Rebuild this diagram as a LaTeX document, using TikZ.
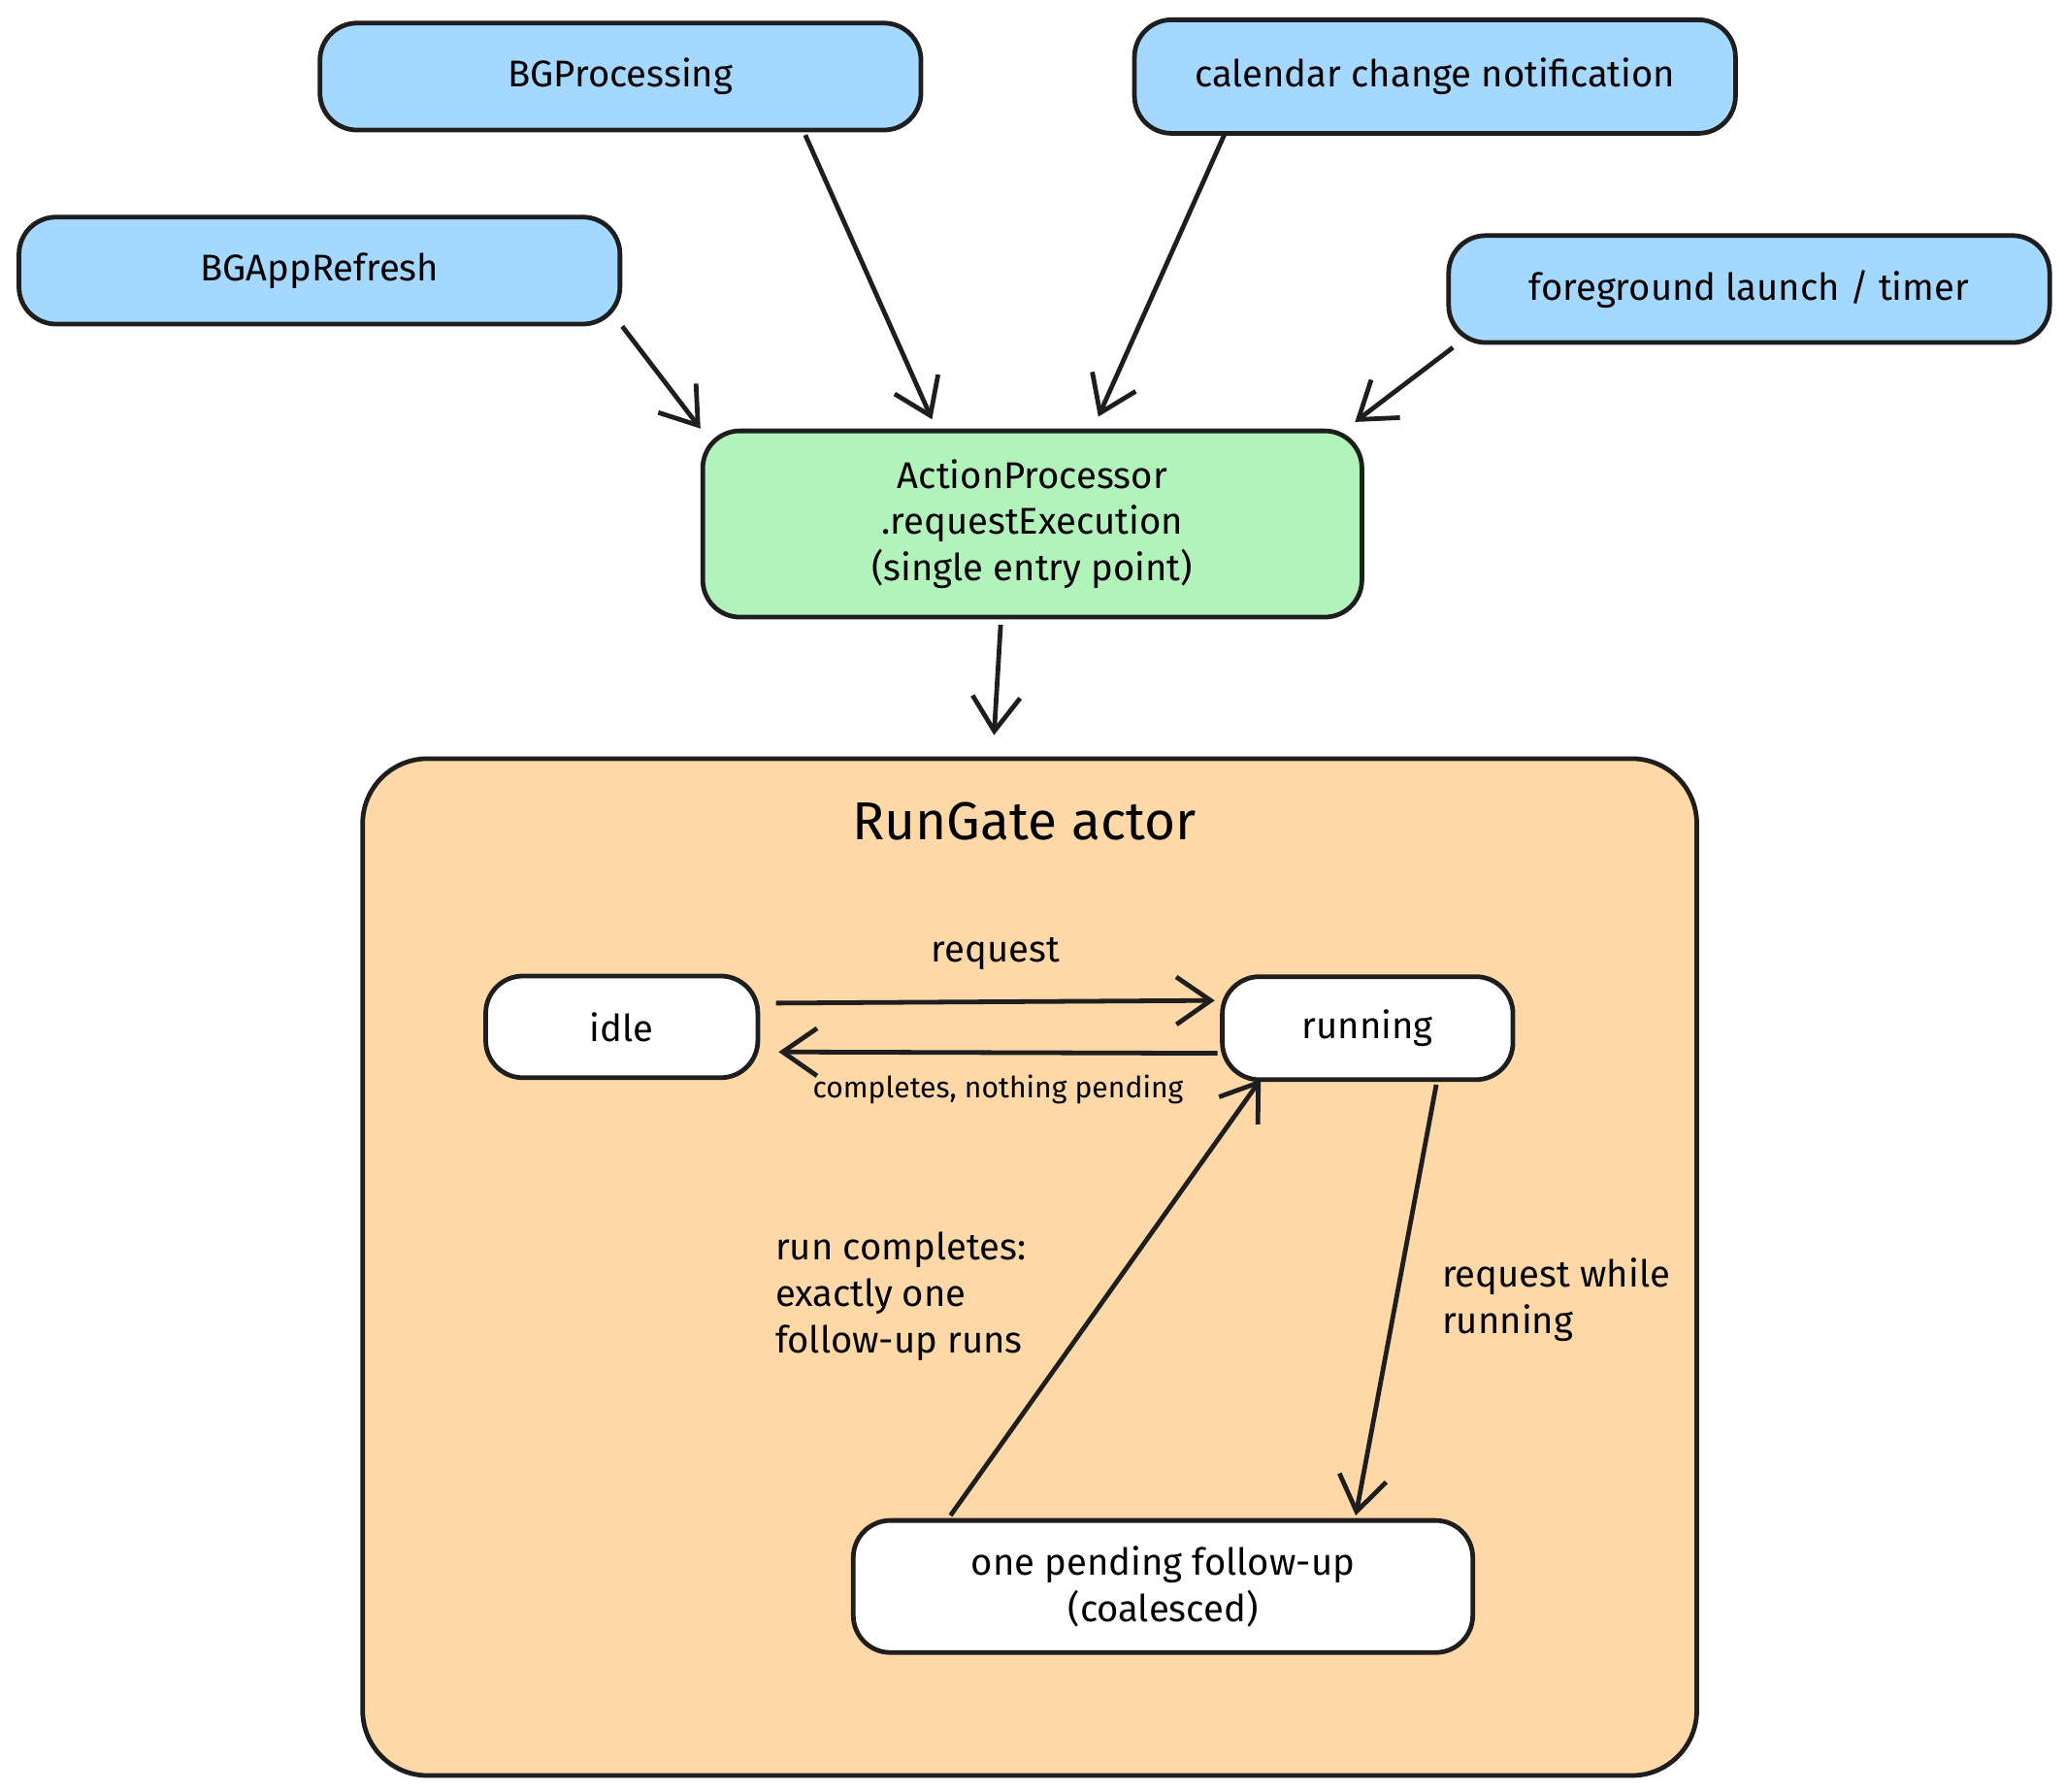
\documentclass[tikz,border=0pt]{standalone}
\usepackage{fontspec}
\setmainfont{Fira Sans}
\usetikzlibrary{arrows.meta, positioning, calc}
\definecolor{srcblue}{HTML}{A5D8FF}
\definecolor{entrygreen}{HTML}{B2F2BB}
\definecolor{gateorange}{HTML}{FFD8A8}
\definecolor{inkdark}{HTML}{1E1E1E}
\tikzset{
  box/.style={draw=inkdark, line width=1pt, rounded corners=8pt, align=center, font=\fontsize{8}{10}\selectfont},
  source/.style={box, fill=srcblue, minimum width=4.55cm, minimum height=0.81cm},
  state/.style={box, fill=white},
  flow/.style={draw=inkdark, line width=1pt, -{Straight Barb[length=2.6mm, width=3.6mm]}},
}
\begin{document}
\begin{tikzpicture}[x=0.01cm, y=-0.01cm]
  \useasboundingbox (0,0) rectangle (1565,1357);

  % Sources
  \node[source] (bgproc) at (470,58) {BGProcessing};
  \node[source, minimum height=0.86cm] (calendar) at (1087,58) {calendar change notification};
  \node[source] (bgapp) at (242,205) {BGAppRefresh};
  \node[source] (fground) at (1325,219) {foreground launch / timer};

  % Entry point
  \node[box, fill=entrygreen, minimum width=4.99cm, minimum height=1.41cm] (action) at (782,397)
    {ActionProcessor\\.requestExecution\\(single entry point)};

  % RunGate container
  \node[box, fill=gateorange, rounded corners=14pt, minimum width=10.1cm, minimum height=7.7cm] (rungate) at (780,960) {};
  \node[font=\fontsize{11.5}{13}\selectfont] (gatetitle) at (776,622) {RunGate actor};
  \coordinate (gatein) at (753,557);

  % States
  \node[state, minimum width=2.06cm, minimum height=0.77cm] (idle) at (471,778) {idle};
  \node[state, minimum width=2.2cm, minimum height=0.78cm] (running) at (1036,779) {running};
  \node[state, minimum width=4.69cm, minimum height=1.0cm] (pending) at (881,1202) {one pending follow-up\\(coalesced)};

  % Sources into entry point
  \draw[flow] (bgapp.south east) -- (action.north west);
  \draw[flow] ($(bgproc.south)+(140,2)$) -- ($(action.north)+(-76,-7)$);
  \draw[flow] ($(calendar.south)+(-159,-2)$) -- ($(action.north)+(50,-9)$);
  \draw[flow] ($(fground.south west)+(5,2)$) -- ($(action.north east)+(-7,-5)$);
  \draw[flow] ($(action.south)+(-24,4)$) -- (gatein);

  % Transitions
  \draw[flow] ($(idle.east)+(12,-18)$) -- node[above=3pt, font=\fontsize{8}{10}\selectfont] {request} ($(running.west)+(-4,-21)$);
  \draw[flow] ($(running.west)+(-2,19)$) -- node[below=1pt, font=\fontsize{6.3}{8}\selectfont] {completes, nothing pending} ($(idle.east)+(14,19)$);
  \draw[flow] ($(running.south)+(52,2)$) -- ($(pending.north)+(146,-2)$);
  \draw[flow] ($(pending.north)+(-161,-2)$) -- ($(running.south)+(-81,-2)$);
  \node[anchor=west, align=left, font=\fontsize{8}{10}\selectfont] (waitlabel) at (1080,985) {request while\\running};
  \node[anchor=west, align=left, font=\fontsize{8}{10}\selectfont] (donelabel) at (575,982) {run completes:\\exactly one\\follow-up runs};
\end{tikzpicture}
\end{document}
